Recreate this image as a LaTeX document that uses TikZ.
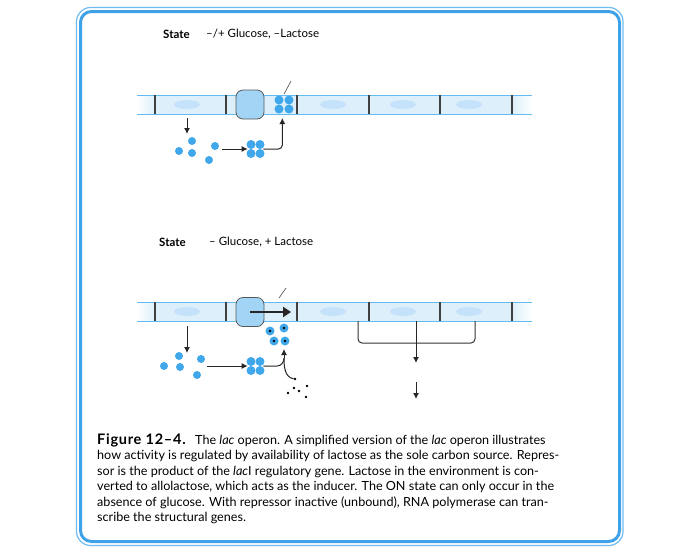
\documentclass[tikz,border=0pt]{standalone}
\usepackage{fontspec}
\setmainfont{Lato}
\usepackage{xcolor}
\usepackage{tikz}
\usetikzlibrary{arrows.meta}

\definecolor{framebl}{HTML}{3FA2E8}
\definecolor{framelt}{HTML}{6DBBF0}
\definecolor{stripln}{HTML}{62BCEF}
\definecolor{stripfl}{HTML}{DCEFFB}
\definecolor{dotbl}{HTML}{3FA7EA}
\definecolor{boxfl}{HTML}{A2D5F5}
\definecolor{smudgec}{HTML}{C4E2F9}

\begin{document}
\begin{tikzpicture}[x=1pt,y=-1pt,
  bdot/.style={circle,fill=dotbl,inner sep=0pt,minimum size=9pt},
  idot/.style={bdot,path picture={\fill[black] (path picture bounding box.center) circle (1.3pt);}},
  sdot/.style={circle,fill=black,inner sep=0pt,minimum size=2.6pt},
  arr/.style={-{Latex[length=6pt,width=6pt]},line width=1pt,black!85},
  opbox/.style={draw=black!65,fill=boxfl,rounded corners=7pt,minimum width=28pt,
    minimum height=29pt,inner sep=0pt,line width=0.8pt},
  statelbl/.style={anchor=west,inner sep=0pt,font=\fontsize{11.5}{13}\selectfont}]
\useasboundingbox (0,0) rectangle (700,550);

% frame
\draw[framelt,line width=1.2pt,rounded corners=14pt] (76.5,7.5) rectangle (623,545.5);
\draw[framebl,line width=3pt,rounded corners=11pt] (80.5,11.5) rectangle (619.5,541.5);

% the two operon strips
\foreach \sy in {95,302} {
  \fill[stripfl] (155,\sy) rectangle (512,\sy+19);
  \shade[left color=white,right color=stripfl] (137,\sy) rectangle (155,\sy+19);
  \shade[left color=stripfl,right color=white] (512,\sy) rectangle (532,\sy+19);
  \foreach \sx in {187,333,403,469}
    \fill[smudgec] (\sx,\sy+9.5) ellipse (13 and 4.5);
  \draw[stripln,line width=0.8pt] (137,\sy) -- (532,\sy) (137,\sy+19) -- (532,\sy+19);
  \foreach \bx in {155,226,297,369,440,512}
    \draw[black!75,line width=1.1pt] (\bx,\sy) -- (\bx,\sy+19);
}

% top panel: repressor bound
\node[statelbl] (st1) at (163,34) {\textbf{State}};
\node[statelbl] (cond1) at (206,34) {–/+ Glucose, –Lactose};
\node[opbox] (op1) at (250,104.5) {};
\node[bdot] (ra) at (279,100) {};
\node[bdot] (rb) at (289,100) {};
\node[bdot] (rc) at (279,109) {};
\node[bdot] (rd) at (289,109) {};
\coordinate (ld1) at (284,94);
\coordinate (lbl1) at (291,81);
\draw[black!70,line width=0.6pt] (ld1) -- (lbl1);
\coordinate (g1) at (187,118);
\coordinate (g1e) at (187,134);
\draw[arr] (g1) -- (g1e);
\node[bdot,minimum size=8pt] (ma) at (192,141) {};
\node[bdot,minimum size=8pt] (mb) at (179,151) {};
\node[bdot,minimum size=8pt] (mc) at (192,153) {};
\node[bdot,minimum size=8pt] (md) at (215,146) {};
\node[bdot,minimum size=8pt] (me) at (209,160) {};
\coordinate (h1) at (222,149);
\node[bdot] (ka) at (251,144.5) {};
\node[bdot] (kb) at (260,144.5) {};
\node[bdot] (kc) at (251,153.5) {};
\node[bdot] (kd) at (260,153.5) {};
\draw[arr] (h1) -- (kc.north west |- h1);
\draw[arr,rounded corners=4pt] (kb.south east |- h1) -| (rc.south east |- 0,118);

% bottom panel: inducer present
\node[statelbl] (st2) at (159,242) {\textbf{State}};
\node[statelbl] (cond2) at (209,242) {– Glucose, + Lactose};
\node[opbox] (op2) at (250,312) {};
\coordinate (tx) at (291,312);
\draw[-{Triangle[length=8pt,width=10pt]},line width=2.4pt,black!85] (op2.center) -- (tx);
\coordinate (ld2) at (279,298);
\coordinate (lbl2) at (286,288);
\draw[black!70,line width=0.6pt] (ld2) -- (lbl2);
\node[idot] (ia) at (270,331) {};
\node[idot] (ib) at (284,328) {};
\node[idot] (ic) at (274,341) {};
\node[idot] (id) at (285,341) {};
\coordinate (g2) at (187,326);
\coordinate (g2e) at (187,353);
\draw[arr] (g2) -- (g2e);
\node[bdot,minimum size=8pt] (na) at (164,366) {};
\node[bdot,minimum size=8pt] (nb) at (179,356) {};
\node[bdot,minimum size=8pt] (nc) at (180,367) {};
\node[bdot,minimum size=8pt] (nd) at (201,359) {};
\node[bdot,minimum size=8pt] (ne) at (197,375) {};
\coordinate (h2) at (207,366);
\node[bdot] (ja) at (251,361.5) {};
\node[bdot] (jb) at (260,361.5) {};
\node[bdot] (jc) at (251,370.5) {};
\node[bdot] (jd) at (260,370.5) {};
\draw[arr] (h2) -- (jc.north west |- h2);
\node[sdot] (sa) at (295,379) {};
\node[sdot] (sb) at (294,388) {};
\node[sdot] (sc) at (299,391) {};
\node[sdot] (sd) at (307,386) {};
\node[sdot] (se) at (288,393) {};
\node[sdot] (sf) at (306,397) {};
\coordinate (jn) at (284,358);
\coordinate (tip2) at (284,349);
\draw[line width=1pt,black!85] (jb.south east |- h2) -- (277,366) to[out=0,in=-90] (jn);
\draw[line width=1pt,black!85] (sa) to[out=170,in=-90] (jn);
\draw[arr] (jn) -- (tip2);

% structural genes
\coordinate (bl) at (358,321);
\coordinate (br) at (475,321);
\coordinate (bm) at (416,321);
\coordinate (bm2) at (416,363);
\coordinate (bm3) at (416,382);
\coordinate (bm4) at (416,399);
\draw[line width=1pt,black!80,rounded corners=4pt] (bl) -- (358,343) -- (475,343) -- (br);
\draw[arr] (bm) -- (bm2);
\draw[arr] (bm3) -- (bm4);

% caption
\node[anchor=north west,align=left,inner sep=0pt,
  font=\fontsize{12.6}{15.4}\selectfont] (cap) at (97,433.5) {%
  \makebox[98pt][l]{\fontsize{14.5}{15.4}\selectfont\addfontfeature{LetterSpace=5}\textbf{Figure 12–4.}}The \textit{lac} operon. A simplified version of the \textit{lac} operon illustrates\\
  how activity is regulated by availability of lactose as the sole carbon source. Repres-\\
  sor is the product of the \textit{lac}I regulatory gene. Lactose in the environment is con-\\
  verted to allolactose, which acts as the inducer. The ON state can only occur in the\\
  absence of glucose. With repressor inactive (unbound), RNA polymerase can tran-\\
  scribe the structural genes.};
\end{tikzpicture}
\end{document}
